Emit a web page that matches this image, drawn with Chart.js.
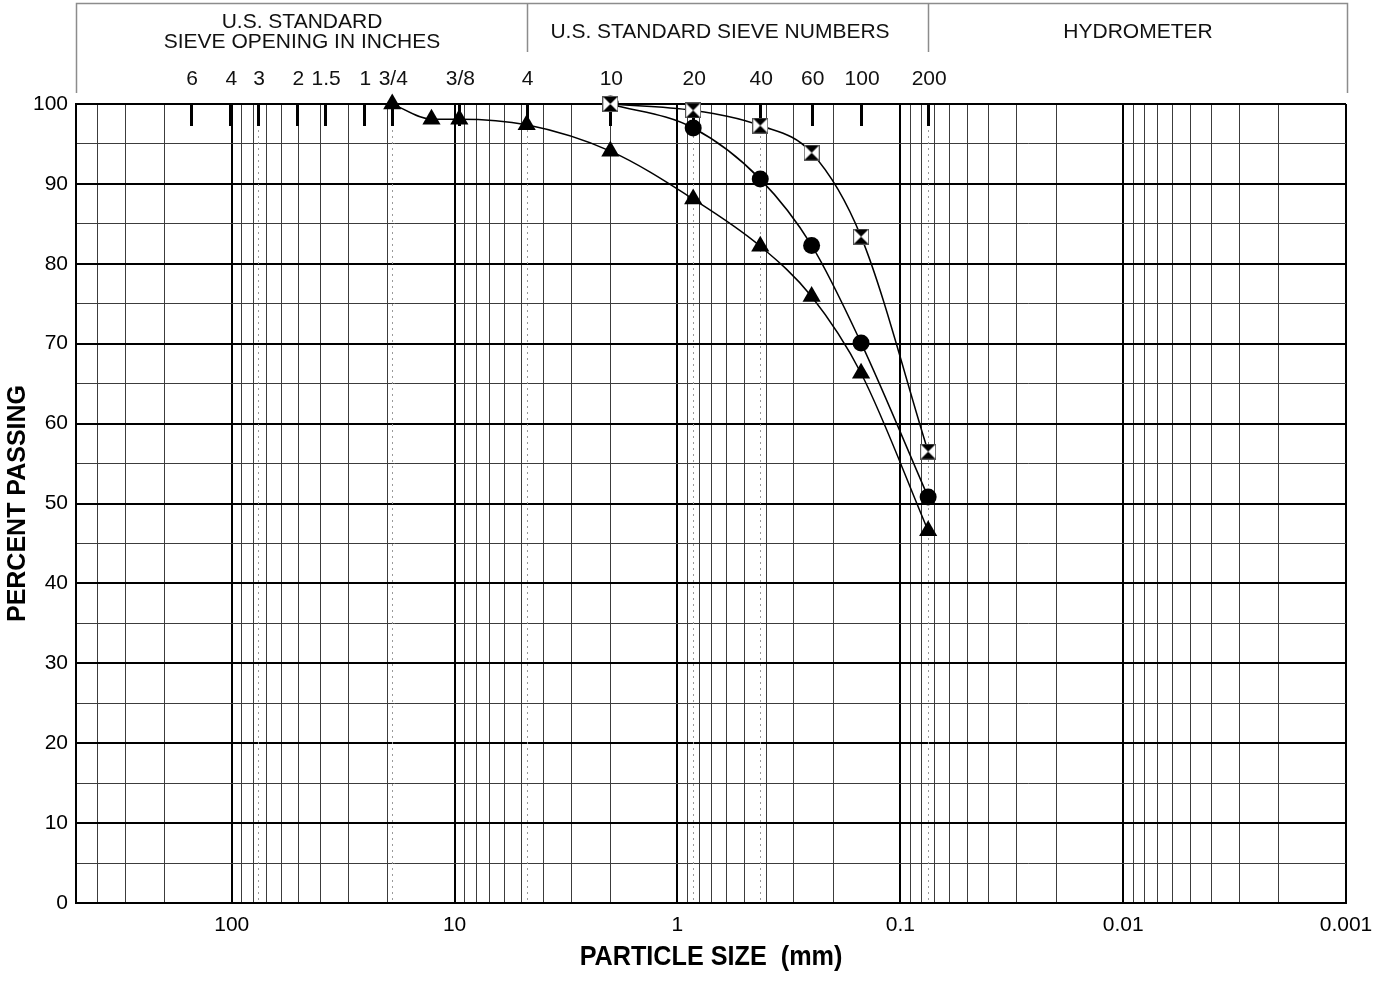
<!DOCTYPE html>
<html>
<head>
<meta charset="utf-8">
<title>Grain Size Distribution</title>
<script src="https://cdn.jsdelivr.net/npm/chart.js@4/dist/chart.umd.min.js"></script>
<style>
  html, body { margin: 0; padding: 0; background: #fff; }
  #wrap { width: 1374px; height: 981px; position: relative; }
</style>
</head>
<body>
<div id="wrap"><canvas id="chart" width="1374" height="981"></canvas></div>
<script>
// Sieve designations and their openings (mm)
const sieveLabels = ['6', '4', '3', '2', '1.5', '1', '3/4', '3/8', '4', '10', '20', '40', '60', '100', '200'];
const sieveSizes  = [152.4, 101.6, 76.2, 50.8, 38.1, 25.4, 19.05, 9.525, 4.75, 2.0, 0.85, 0.425, 0.25, 0.15, 0.075];
// Sieves marked with a dotted guide line through the grid
const guideSizes  = [76.2, 19.05, 4.75, 0.85, 0.425, 0.075];

// Sample A (triangles)
const sizesA   = [19.05, 12.7, 9.525, 4.75, 2.0, 0.85, 0.425, 0.25, 0.15, 0.075];
const passingA = [100, 98.1, 98.1, 97.4, 94.1, 88.1, 82.2, 75.9, 66.3, 46.6];
// Sample B (circles)
const sizesB   = [2.0, 0.85, 0.425, 0.25, 0.15, 0.075];
const passingB = [100, 97.0, 90.6, 82.3, 70.1, 50.8];
// Sample C (hourglass squares)
const sizesC   = [2.0, 0.85, 0.425, 0.25, 0.15, 0.075];
const passingC = [100, 99.2, 97.3, 93.9, 83.4, 56.5];

const FONT = "'Liberation Sans', Arial, sans-serif";
const X_TITLE = 'PARTICLE SIZE  (mm)';

function toPoints(xs, ys) { return xs.map((v, i) => ({ x: v, y: ys[i] })); }

function isDecade(v) {
  const l = Math.log10(v);
  return Math.abs(l - Math.round(l)) < 1e-6;
}

// Square marker with a filled hourglass inside
function hourglassMarker(size) {
  const c = document.createElement('canvas');
  c.width = size; c.height = size;
  const g = c.getContext('2d');
  g.fillStyle = '#fff';
  g.fillRect(0, 0, size, size);
  g.fillStyle = '#000';
  g.beginPath(); g.moveTo(1, 1); g.lineTo(size - 1, 1); g.lineTo(size / 2, size / 2); g.closePath(); g.fill();
  g.beginPath(); g.moveTo(1, size - 1); g.lineTo(size - 1, size - 1); g.lineTo(size / 2, size / 2); g.closePath(); g.fill();
  g.strokeStyle = '#555';
  g.lineWidth = 1;
  g.strokeRect(0.5, 0.5, size - 1, size - 1);
  return c;
}

const sieveMarks = {
  id: 'sieveMarks',
  beforeDatasetsDraw(chart) {
    const { ctx, chartArea: a, scales: { x } } = chart;
    ctx.save();
    ctx.strokeStyle = '#9a9a9a';
    ctx.lineWidth = 1;
    ctx.setLineDash([2, 4]);
    guideSizes.forEach(s => {
      const px = Math.round(x.getPixelForValue(s)) + 0.5;
      ctx.beginPath(); ctx.moveTo(px, a.top + 2); ctx.lineTo(px, a.bottom - 2); ctx.stroke();
    });
    ctx.setLineDash([]);
    ctx.strokeStyle = '#000';
    ctx.lineWidth = 3;
    sieveSizes.forEach(s => {
      const px = Math.round(x.getPixelForValue(s)) + 0.5;
      ctx.beginPath(); ctx.moveTo(px, a.top); ctx.lineTo(px, a.top + 22); ctx.stroke();
    });
    ctx.restore();
  },
  afterDraw(chart) {
    const { ctx, chartArea: a, scales: { x } } = chart;
    const div1 = Math.round(x.getPixelForValue(4.75)) + 0.5;
    const div2 = Math.round(x.getPixelForValue(0.075)) + 0.5;
    const left = a.left + 0.5, right = a.right + 1.5, top = 3.5;
    ctx.save();
    ctx.strokeStyle = '#8c8c8c';
    ctx.lineWidth = 1.5;
    ctx.beginPath();
    ctx.moveTo(left, 93); ctx.lineTo(left, top); ctx.lineTo(right, top); ctx.lineTo(right, 93);
    ctx.moveTo(div1, top); ctx.lineTo(div1, 52);
    ctx.moveTo(div2, top); ctx.lineTo(div2, 52);
    ctx.stroke();

    ctx.fillStyle = '#111';
    ctx.font = '21px ' + FONT;
    ctx.textAlign = 'center';
    ctx.textBaseline = 'middle';
    const mid1 = (left + div1) / 2;
    ctx.fillText('U.S. STANDARD', mid1, 22);
    ctx.fillText('SIEVE OPENING IN INCHES', mid1, 42);
    ctx.fillText('U.S. STANDARD SIEVE NUMBERS', (div1 + div2) / 2 - 8, 32);
    ctx.fillText('HYDROMETER', (div2 + right) / 2, 32);

    sieveSizes.forEach((s, i) => {
      ctx.fillText(sieveLabels[i], x.getPixelForValue(s) + 1, 79);
    });

    // Horizontal axis title, set in a tall narrow bold face
    ctx.fillStyle = '#000';
    ctx.font = 'bold 28px ' + FONT;
    ctx.translate((a.left + a.right) / 2, 957);
    ctx.scale(0.9, 1);
    ctx.fillText(X_TITLE, 0, 0);
    ctx.restore();
  }
};

// Every 1..9 x 10^n value across the axis range gets a grid line
function logGridTicks(scale) {
  const ticks = [];
  for (let n = -3; n <= 2; n++) {
    for (let k = 1; k <= 9; k++) {
      const v = parseFloat((k * Math.pow(10, n)).toPrecision(3));
      if (v >= 0.001 && v <= 500) ticks.push({ value: v });
    }
  }
  scale.ticks = ticks;
}

const hg = hourglassMarker(16);

new Chart(document.getElementById('chart'), {
  type: 'line',
  data: {
    datasets: [
      {
        label: 'C',
        data: toPoints(sizesC, passingC),
        borderColor: '#000', borderWidth: 1.5, fill: false,
        cubicInterpolationMode: 'monotone',
        pointStyle: hg, pointRadius: 8,
        clip: false
      },
      {
        label: 'B',
        data: toPoints(sizesB, passingB),
        borderColor: '#000', borderWidth: 1.5, fill: false,
        cubicInterpolationMode: 'monotone',
        pointStyle: 'circle', pointRadius: 8.5,
        pointBackgroundColor: '#000', pointBorderColor: '#000', pointBorderWidth: 0,
        clip: false
      },
      {
        label: 'A',
        data: toPoints(sizesA, passingA),
        borderColor: '#000', borderWidth: 1.5, fill: false,
        cubicInterpolationMode: 'monotone',
        pointStyle: 'triangle', pointRadius: 10.5,
        pointBackgroundColor: '#000', pointBorderColor: '#000', pointBorderWidth: 0,
        clip: false
      }
    ]
  },
  options: {
    responsive: false,
    devicePixelRatio: 1,
    animation: false,
    events: [],
    layout: { padding: { top: 104, right: 28, left: 0, bottom: 0 } },
    plugins: {
      legend: { display: false },
      tooltip: { enabled: false }
    },
    scales: {
      x: {
        type: 'logarithmic',
        min: 0.001,
        max: 500,
        reverse: true,
        afterBuildTicks: logGridTicks,
        afterFit(scale) { scale.height = 78; },
        border: { display: true, color: '#000', width: 2 },
        grid: {
          drawTicks: false,
          color: c => isDecade(c.tick.value) ? '#000' : '#3c3c3c',
          lineWidth: c => isDecade(c.tick.value) ? 2 : 1
        },
        ticks: {
          autoSkip: false,
          maxRotation: 0,
          padding: 10,
          color: '#000',
          font: { family: FONT, size: 21 },
          callback: v => isDecade(v) ? String(v) : ''
        },
        title: { display: false }
      },
      y: {
        min: 0,
        max: 100,
        afterFit(scale) { scale.width = 76; },
        border: { display: true, color: '#000', width: 2 },
        grid: {
          drawTicks: false,
          color: c => c.tick.value % 10 === 0 ? '#000' : '#3c3c3c',
          lineWidth: c => c.tick.value % 10 === 0 ? 2 : 1
        },
        ticks: {
          stepSize: 5,
          padding: 8,
          color: '#000',
          font: { family: FONT, size: 21 },
          callback: v => v % 10 === 0 ? String(v) : ''
        },
        title: {
          display: true,
          text: 'PERCENT PASSING',
          color: '#000',
          font: { family: FONT, size: 25, weight: 'bold' },
          padding: { top: 3, bottom: 0 }
        }
      }
    }
  },
  plugins: [sieveMarks]
});
</script>
</body>
</html>
